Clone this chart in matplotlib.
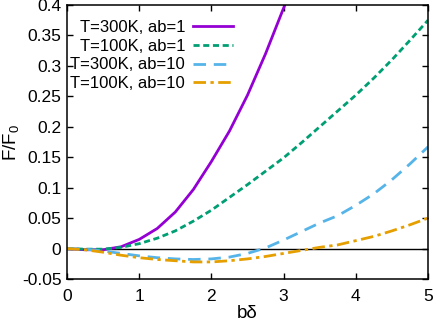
import numpy as np
import matplotlib
matplotlib.use('Agg')
import matplotlib.pyplot as plt

plt.rcParams['font.family'] = ['Liberation Sans', 'DejaVu Sans']
plt.rcParams['mathtext.fontset'] = 'custom'
plt.rcParams['mathtext.rm'] = 'Liberation Sans'
plt.rcParams['mathtext.it'] = 'Liberation Sans:italic'

# values (b*delta on x, F/F0 on y)
x = [0, 0.25, 0.5, 0.75, 1, 1.25, 1.5, 1.75, 2, 2.25, 2.5, 2.75, 3, 3.25,
     3.5, 3.75, 4, 4.25, 4.5, 4.75, 5]

x_300_ab1 = x[:14]
f_300_ab1 = [0, -0.002, -0.002, 0.003, 0.015, 0.033, 0.06, 0.097, 0.143,
             0.193, 0.252, 0.32, 0.395, 0.47]
f_100_ab1 = [0, -0.001, -0.001, 0.002, 0.008, 0.017, 0.029, 0.045, 0.063,
             0.084, 0.105, 0.127, 0.149, 0.174, 0.2, 0.226, 0.252, 0.28,
             0.31, 0.342, 0.375]
f_300_ab10 = [0, -0.001, -0.004, -0.008, -0.012, -0.015, -0.017, -0.018,
              -0.017, -0.014, -0.008, 0.001, 0.014, 0.028, 0.042, 0.054,
              0.071, 0.09, 0.113, 0.139, 0.167]
f_100_ab10 = [0, -0.002, -0.006, -0.011, -0.015, -0.018, -0.02, -0.022,
              -0.022, -0.02, -0.017, -0.013, -0.008, -0.003, 0.002, 0.006,
              0.013, 0.02, 0.029, 0.039, 0.05]

labels = ['T=300K, ab=1', 'T=100K, ab=1', 'T=300K, ab=10', 'T=100K, ab=10']
colors = ['#9400d3', '#009e73', '#56b4e9', '#e69f00']

fig = plt.figure(figsize=(4.36, 3.27), dpi=100)
ax = fig.add_axes([0.1537, 0.1468, 0.828, 0.838])

ax.axhline(0, color='black', lw=1.0, zorder=1)
ax.plot(x_300_ab1, f_300_ab1, color=colors[0], lw=2.0, label=labels[0])
ax.plot(x, f_100_ab1, color=colors[1], lw=2.0, dashes=(2.2, 1.3), label=labels[1])
ax.plot(x, f_300_ab10, color=colors[2], lw=2.0, dashes=(4.5, 2.8), label=labels[2])
ax.plot(x, f_100_ab10, color=colors[3], lw=2.0, dashes=(4.5, 1.6, 1.2, 1.6), label=labels[3])

ax.set_xlim(0, 5)
ax.set_ylim(-0.05, 0.4)
ax.set_xticks([0, 1, 2, 3, 4, 5])
ax.set_xticklabels(['0', '1', '2', '3', '4', '5'])
yt = [-0.05, 0, 0.05, 0.1, 0.15, 0.2, 0.25, 0.3, 0.35, 0.4]
ax.set_yticks(yt)
ax.set_yticklabels(['-0.05', '0', '0.05', '0.1', '0.15', '0.2', '0.25', '0.3', '0.35', '0.4'])
ax.tick_params(direction='in', top=True, right=True, length=4, width=1.0,
               labelsize=12.5, pad=4)
ax.tick_params(axis='x', pad=7)
for s in ax.spines.values():
    s.set_linewidth(1.1)

ax.set_xlabel('b\u03b4', fontsize=13.5, labelpad=1)
ax.set_ylabel('F/F$_0$', fontsize=13.5)
ax.yaxis.set_label_coords(-0.128, 0.5)

ax.legend(loc='upper right', bbox_to_anchor=(0.468, 0.957), frameon=False,
          markerfirst=False, fontsize=12, handlelength=2.4, handletextpad=0.45,
          labelspacing=0.22, borderpad=0.2, borderaxespad=0)

fig.savefig('out.png', dpi=100)
